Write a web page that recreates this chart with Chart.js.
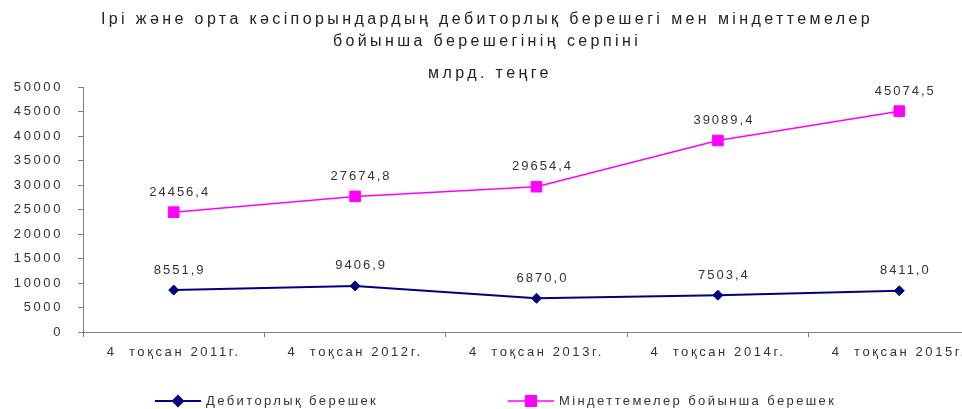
<!DOCTYPE html>
<html>
<head>
<meta charset="utf-8">
<script src="https://cdn.jsdelivr.net/npm/chart.js@4/dist/chart.umd.min.js"></script>
<style>
  html, body { margin: 0; padding: 0; background: #fff; overflow: hidden; }
  #wrap { width: 1000px; height: 409px; position: relative; }
</style>
</head>
<body>
<div id="wrap"><canvas id="chart"></canvas></div>
<script>
'use strict';

const TITLE_LINES = ['Ірі және орта кәсіпорындардың дебиторлық берешегі мен міндеттемелер', 'бойынша берешегінің серпіні'];
const UNIT_LABEL = 'млрд. теңге';
const CATEGORIES = ['4  тоқсан 2011г.', '4  тоқсан 2012г.', '4  тоқсан 2013г.', '4  тоқсан 2014г.', '4  тоқсан 2015г.'];
const RECEIVABLES = [8551.9, 9406.9, 6870.0, 7503.4, 8411.0];
const LIABILITIES = [24456.4, 27674.8, 29654.4, 39089.4, 45074.5];
const SERIES_NAMES = ['Дебиторлық берешек', 'Міндеттемелер бойынша берешек'];
const Y_MIN = 0;
const Y_MAX = 50000;
const Y_STEP = 5000;

const FONT = "'Liberation Sans', Arial, sans-serif";
const TEXT = '#333';
const AXIS = '#808080';

const fmt = (v) => v.toFixed(1).replace('.', ',');

// text spacing, title, value labels and legend
const decor = {
  id: 'decor',
  beforeDraw(chart) {
    chart.ctx.letterSpacing = '2.6px';
  },
  afterDatasetsDraw(chart) {
    const ctx = chart.ctx;
    ctx.save();
    ctx.letterSpacing = '2px';
    ctx.fillStyle = TEXT;
    ctx.font = `13px ${FONT}`;
    ctx.textAlign = 'center';
    ctx.textBaseline = 'middle';
    chart.data.datasets.forEach((ds, i) => {
      chart.getDatasetMeta(i).data.forEach((pt, j) => {
        ctx.fillText(fmt(ds.data[j]), pt.x + 6, pt.y - 20);
      });
    });
    ctx.restore();
  },
  afterDraw(chart) {
    const ctx = chart.ctx;
    ctx.save();
    ctx.letterSpacing = '3.4px';
    ctx.fillStyle = '#222';
    ctx.textAlign = 'center';
    ctx.textBaseline = 'middle';
    ctx.font = `16px ${FONT}`;
    ctx.fillText(TITLE_LINES[0], 487, 20);
    ctx.fillText(TITLE_LINES[1], 487, 42);
    ctx.fillText(UNIT_LABEL, 490, 74);

    const lx = [155, 508];
    const ly = 401;
    ctx.letterSpacing = '2.4px';
    chart.data.datasets.forEach((ds, i) => {
      const x = lx[i];
      ctx.strokeStyle = ds.borderColor;
      ctx.lineWidth = ds.borderWidth;
      ctx.beginPath();
      ctx.moveTo(x, ly);
      ctx.lineTo(x + 46, ly);
      ctx.stroke();
      ctx.fillStyle = ds.backgroundColor;
      Chart.helpers.drawPoint(ctx, { pointStyle: ds.pointStyle, radius: ds.pointRadius, rotation: 0, borderWidth: 1 }, x + 23, ly);
      ctx.fillStyle = TEXT;
      ctx.font = `13px ${FONT}`;
      ctx.textAlign = 'left';
      ctx.fillText(ds.label, x + 51, ly);
    });
    ctx.restore();
    ctx.letterSpacing = '0px';
  }
};

new Chart(document.getElementById('chart').getContext('2d'), {
  type: 'line',
  data: {
    labels: CATEGORIES,
    datasets: [
      {
        label: SERIES_NAMES[0], data: RECEIVABLES,
        borderColor: '#000080', backgroundColor: '#000080', borderWidth: 2,
        pointStyle: 'rectRot', pointRadius: 5, pointBorderWidth: 1, tension: 0
      },
      {
        label: SERIES_NAMES[1], data: LIABILITIES,
        borderColor: '#ff00ff', backgroundColor: '#ff00ff', borderWidth: 1.5,
        pointStyle: 'rect', pointRadius: 7.5, pointBorderWidth: 1, tension: 0
      }
    ]
  },
  options: {
    responsive: true,
    maintainAspectRatio: false,
    animation: false,
    layout: { padding: { top: 87, right: 10, bottom: 37, left: 0 } },
    plugins: { legend: { display: false }, title: { display: false }, tooltip: { enabled: false } },
    scales: {
      x: {
        offset: true,
        afterFit: (s) => { s.height = 40; },
        border: { color: AXIS, width: 1 },
        grid: { offset: true, drawOnChartArea: false, color: AXIS, tickLength: 5 },
        ticks: { color: TEXT, font: { family: FONT, size: 13 }, padding: 8, maxRotation: 0, autoSkip: false }
      },
      y: {
        min: Y_MIN, max: Y_MAX,
        afterFit: (s) => { s.width = 83; },
        border: { color: AXIS, width: 1 },
        grid: { drawOnChartArea: false, color: AXIS, tickLength: 5 },
        ticks: { stepSize: Y_STEP, color: TEXT, font: { family: FONT, size: 13 }, padding: 15, callback: (v) => String(v) }
      }
    }
  },
  plugins: [decor]
});
</script>
</body>
</html>
